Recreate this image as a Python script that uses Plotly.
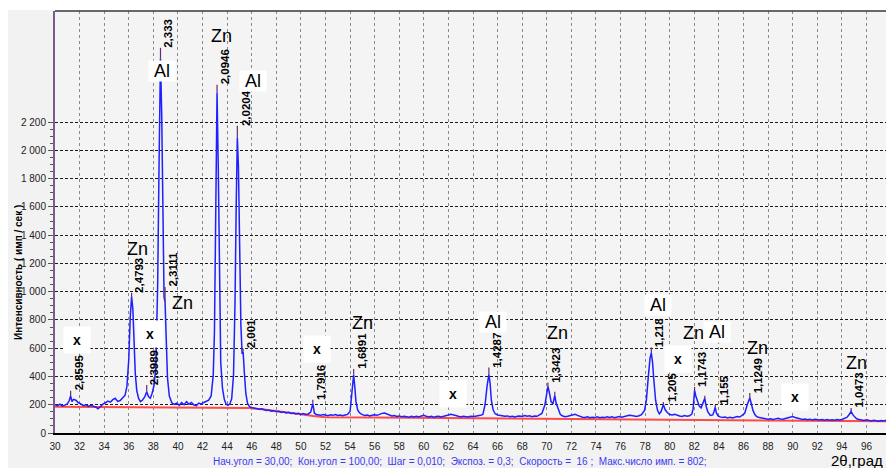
import numpy as np
import plotly.graph_objects as go

# ---------------- data ----------------
# diffraction profile: (2theta, counts)
profile_30_46 = [
    (30.0, 200), (30.2, 194), (30.4, 204), (30.6, 190), (30.8, 197), (31.0, 206), (31.15, 228),
    (31.27, 262), (31.38, 222), (31.5, 238), (31.7, 232), (31.9, 214), (32.1, 206), (32.3, 194),
    (32.5, 200), (32.7, 188), (32.9, 196), (33.1, 190), (33.3, 184), (33.5, 172), (33.7, 192),
    (33.9, 204), (34.1, 214), (34.3, 226), (34.5, 218), (34.7, 236), (34.9, 246), (35.1, 224),
    (35.3, 230), (35.5, 246), (35.7, 268), (35.85, 330), (36.0, 520), (36.12, 820), (36.23, 965),
    (36.33, 880), (36.43, 610), (36.53, 420), (36.65, 300), (36.8, 245), (36.95, 222), (37.1, 232),
    (37.3, 256), (37.46, 292), (37.6, 258), (37.75, 246), (37.9, 282), (38.05, 335), (38.2, 460),
    (38.35, 1050), (38.47, 1950), (38.58, 2650), (38.68, 2250), (38.78, 1350), (38.87, 960),
    (38.95, 930), (39.05, 620), (39.15, 390), (39.3, 262), (39.5, 214), (39.7, 202), (39.9, 212),
    (40.1, 196), (40.3, 216), (40.5, 200), (40.7, 222), (40.9, 204), (41.1, 216), (41.3, 198),
    (41.5, 194), (41.7, 212), (41.9, 204), (42.1, 216), (42.3, 226), (42.5, 232), (42.7, 262),
    (42.87, 410), (42.97, 720), (43.07, 1420), (43.18, 2410), (43.28, 1880), (43.38, 900),
    (43.48, 500), (43.62, 318), (43.77, 238), (43.92, 204), (44.07, 196), (44.22, 206), (44.37, 242),
    (44.52, 410), (44.64, 920), (44.74, 1620), (44.83, 2090), (44.92, 1880), (45.02, 1280),
    (45.12, 760), (45.22, 560), (45.30, 575), (45.4, 430), (45.52, 280), (45.66, 210), (45.82, 186),
]
profile_46_66 = [
    (46.0, 180), (46.2, 176), (46.4, 172), (46.6, 168), (46.8, 171), (47.0, 163), (47.2, 160),
    (47.4, 163), (47.6, 155), (47.8, 158), (48.0, 150), (48.2, 153), (48.4, 145), (48.6, 150),
    (48.8, 142), (49.0, 146), (49.2, 138), (49.4, 141), (49.6, 135), (49.8, 139), (50.0, 132),
    (50.2, 137), (50.4, 131), (50.6, 135), (50.8, 148), (50.97, 208), (51.1, 140), (51.25, 131),
    (51.4, 128), (51.6, 125), (51.8, 131), (52.0, 127), (52.2, 123), (52.4, 129), (52.6, 125),
    (52.8, 131), (53.0, 124), (53.2, 128), (53.4, 122), (53.6, 127), (53.8, 132), (54.0, 152),
    (54.12, 250), (54.22, 372), (54.29, 412), (54.38, 330), (54.48, 222), (54.62, 162), (54.8, 140),
    (55.0, 130), (55.2, 124), (55.4, 127), (55.6, 121), (55.8, 126), (56.0, 129), (56.2, 125),
    (56.4, 133), (56.6, 139), (56.8, 141), (57.0, 132), (57.2, 126), (57.4, 120), (57.6, 123),
    (57.8, 117), (58.0, 121), (58.2, 115), (58.4, 119), (58.6, 116), (58.8, 112), (59.0, 118),
    (59.2, 114), (59.4, 118), (59.6, 113), (59.8, 121), (60.0, 126), (60.2, 118), (60.4, 114),
    (60.6, 118), (60.8, 112), (61.0, 116), (61.2, 119), (61.4, 114), (61.6, 117), (61.8, 121),
    (62.0, 127), (62.2, 133), (62.4, 130), (62.6, 124), (62.8, 118), (63.0, 114), (63.2, 119),
    (63.4, 116), (63.6, 113), (63.8, 119), (64.0, 116), (64.2, 119), (64.4, 121), (64.6, 125),
    (64.8, 131), (64.98, 200), (65.14, 330), (65.29, 415), (65.39, 352), (65.49, 232), (65.64, 162),
    (65.8, 136),
]
profile_66_82 = [
    (66.0, 128), (66.2, 125), (66.4, 121), (66.6, 118), (66.8, 121), (67.0, 115), (67.2, 119),
    (67.4, 114), (67.6, 118), (67.8, 121), (68.0, 117), (68.2, 123), (68.4, 118), (68.6, 122),
    (68.8, 116), (69.0, 121), (69.2, 118), (69.4, 126), (69.6, 138), (69.85, 200), (70.0, 295),
    (70.09, 330), (70.2, 290), (70.35, 222), (70.5, 206), (70.58, 238), (70.65, 266), (70.75, 214),
    (70.95, 160), (71.1, 131), (71.3, 120), (71.5, 115), (71.7, 119), (71.9, 125), (72.1, 129),
    (72.3, 133), (72.5, 125), (72.7, 118), (72.9, 112), (73.1, 110), (73.3, 114), (73.5, 108),
    (73.7, 112), (73.9, 109), (74.1, 114), (74.3, 108), (74.5, 112), (74.7, 109), (74.9, 114),
    (75.1, 110), (75.3, 114), (75.5, 108), (75.7, 113), (75.9, 116), (76.1, 111), (76.3, 117),
    (76.5, 120), (76.7, 125), (76.9, 124), (77.1, 119), (77.3, 117), (77.5, 122), (77.7, 130),
    (77.95, 160), (78.1, 232), (78.25, 392), (78.4, 532), (78.5, 566), (78.6, 502), (78.7, 382),
    (78.85, 232), (79.0, 162), (79.15, 136), (79.3, 152), (79.48, 202), (79.62, 166), (79.8, 145),
    (80.0, 131), (80.2, 127), (80.4, 133), (80.6, 124), (80.8, 120), (81.0, 117), (81.2, 123),
    (81.4, 118), (81.6, 122), (81.8, 134), (81.9, 170), (81.96, 235), (82.02, 302), (82.12, 262),
    (82.25, 220), (82.4, 190), (82.55, 178),
]
profile_82_98 = [
    (82.7, 210), (82.85, 245), (82.97, 186), (83.1, 150), (83.3, 125), (83.5, 128), (83.6, 150),
    (83.7, 182), (83.8, 140), (83.95, 120), (84.1, 114), (84.3, 110), (84.5, 113), (84.7, 107),
    (84.9, 111), (85.1, 106), (85.3, 111), (85.5, 116), (85.7, 113), (85.9, 124), (86.1, 140),
    (86.3, 200), (86.51, 248), (86.62, 212), (86.77, 160), (86.92, 130), (87.05, 118), (87.2, 112),
    (87.4, 108), (87.6, 103), (87.8, 100), (88.0, 97), (88.2, 101), (88.4, 96), (88.6, 100),
    (88.8, 104), (89.0, 99), (89.2, 97), (89.4, 103), (89.6, 108), (89.8, 113), (90.0, 116),
    (90.2, 110), (90.4, 104), (90.6, 100), (90.8, 95), (91.0, 99), (91.2, 94), (91.4, 98),
    (91.6, 93), (91.8, 97), (92.0, 94), (92.2, 92), (92.4, 96), (92.6, 91), (92.8, 95), (93.0, 91),
    (93.2, 94), (93.4, 90), (93.6, 95), (93.8, 92), (94.0, 96), (94.2, 101), (94.4, 110),
    (94.55, 125), (94.65, 140), (94.75, 152), (94.9, 128), (95.05, 110), (95.2, 101), (95.4, 95),
    (95.6, 92), (95.8, 89), (96.0, 93), (96.2, 88), (96.4, 85), (96.6, 90), (96.8, 86), (97.0, 84),
    (97.2, 89), (97.4, 85), (97.6, 90), (97.8, 86), (98.0, 88), (98.24, 86),
]

# background (red) line
baseline_2theta = [30, 45.8, 47, 48, 49, 50, 51, 52, 56, 62, 68, 74, 80, 86, 92, 98.24]
baseline_counts = [186, 177, 167, 157, 145, 132, 120, 112, 109, 105, 100, 94, 90, 88, 84, 82]

# identified peaks: position, top of the marker, d-spacing label
peak_2theta = [31.27, 36.23, 37.46, 38.58, 38.95, 43.18, 44.83, 45.30, 50.97, 54.29,
               65.29, 70.09, 70.65, 78.50, 79.48, 82.02, 82.85, 83.70, 86.51, 94.75]
peak_top = [299, 992, 340, 2726, 1033, 2465, 2175, 597, 236, 453,
            464, 358, 292, 606, 219, 326, 264, 198, 283, 177]
peak_d = ["2,8595", "2,4793", "2,3989", "2,333", "2,3111", "2,0946", "2,0204", "2,001", "1,7916", "1,6891",
          "1,4287", "1,3423", "", "1,218", "1,205", "1,1743", "", "1,155", "1,1249", "1,0473"]

# phase labels
phase_text = ["Zn", "Al", "Zn", "Al", "Zn", "Zn", "Al", "Zn", "Al", "Zn", "Al", "Zn", "Zn"]
phase_2theta = [36.67, 38.70, 43.58, 46.11, 40.41, 55.05, 65.63, 70.83, 79.05, 81.90, 83.85, 87.10, 95.23]
phase_counts = [1305, 2564, 2812, 2494, 922, 781, 788, 710, 908, 710, 717, 604, 498]

unknown_2theta = [31.79, 37.73, 51.31, 62.37, 80.67, 90.19]
unknown_counts = [660, 703, 597, 278, 526, 257]

x_ticks = list(range(30, 99, 2))
y_ticks = list(range(0, 2201, 200))
y_ticktext = ["0", "200", "400", "600", "800", "1 000", "1 200", "1 400", "1 600", "1 800", "2 000", "2 200"]
y_minor = list(range(0, 2201, 50))

info_text = ("Нач.угол = 30,00;\u00a0\u00a0Кон.угол = 100,00;\u00a0\u00a0Шаг = 0,010;\u00a0\u00a0"
             "Экспоз. = 0,3;\u00a0\u00a0Скорость =\u00a0\u00a016 ;\u00a0\u00a0Макс.число имп. = 802;")

# ---------------- figure ----------------
profile = profile_30_46 + profile_46_66 + profile_66_82 + profile_82_98
two_theta = [p[0] for p in profile]
counts = [p[1] for p in profile]

FONT = "Liberation Sans, Arial, sans-serif"
OFF = 8                      # page body margin of the html page
W, H = 894 - OFF, 468 - OFF
ML, MR, MT, MB = 55 - OFF, 0, 11 - OFF, 35
XR = [30, 98.24]
YR = [0, 2987]
pw = W - ML - MR
ph = H - MT - MB


def px(xpage):
    return (xpage - OFF - ML) / pw


def py(ypage):
    return (H - MB - (ypage - OFF)) / ph


fig = go.Figure()

fig.add_trace(go.Scatter(x=baseline_2theta, y=baseline_counts, mode="lines",
                         line=dict(color="#ff4a4a", width=2), hoverinfo="skip"))
fig.add_trace(go.Scatter(x=two_theta, y=counts, mode="lines",
                         line=dict(color="#1f1fff", width=1.5), hoverinfo="skip"))

# peak marker ticks (from curve top up to marker top)
mx, my = [], []
for p, t in zip(peak_2theta, peak_top):
    base = float(np.interp(p, two_theta, counts))
    mx += [p, p, None]
    my += [min(base, t), t, None]
fig.add_trace(go.Scatter(x=mx, y=my, mode="lines", line=dict(color="#6a2a6a", width=1.2),
                         hoverinfo="skip"))

ann = []
for p, t, d in zip(peak_2theta, peak_top, peak_d):
    if not d:
        continue
    ann.append(dict(x=p, y=t, xref="x", yref="y", text="<b>%s</b>" % d, textangle=-90,
                    showarrow=False, xanchor="left", yanchor="bottom", xshift=1, yshift=-1,
                    borderpad=0, font=dict(family=FONT, size=11.5, color="black")))

for txt, x0, y0 in zip(phase_text, phase_2theta, phase_counts):
    boxed = txt == "Al"
    ann.append(dict(x=x0, y=y0, xref="x", yref="y",
                    text=("\u00a0%s\u00a0" % txt) if boxed else txt,
                    showarrow=False, xanchor="center", yanchor="middle",
                    bgcolor="white" if boxed else "rgba(0,0,0,0)", borderpad=0,
                    font=dict(family=FONT, size=18, color="black")))

for x0, y0 in zip(unknown_2theta, unknown_counts):
    ann.append(dict(x=x0, y=y0, xref="x", yref="y", text="<b>\u00a0x\u00a0</b>",
                    showarrow=False, xanchor="center", yanchor="middle",
                    bgcolor="white", borderpad=5,
                    font=dict(family=FONT, size=14, color="black")))

# y-axis title
ann.append(dict(x=px(18), y=py(273), xref="paper", yref="paper",
                text="<b>Интенсивность ( имп / сек )</b>", textangle=-90, showarrow=False,
                xanchor="center", yanchor="middle", font=dict(family=FONT, size=10, color="black")))
# x-axis title
ann.append(dict(x=px(857), y=py(460), xref="paper", yref="paper",
                text="2θ,град", showarrow=False, xanchor="center", yanchor="middle",
                font=dict(family=FONT, size=15, color="black")))
# info line
ann.append(dict(x=px(460), y=py(461), xref="paper", yref="paper",
                text=info_text, showarrow=False, xanchor="center", yanchor="middle",
                font=dict(family=FONT, size=10, color="#3a3af0")))

shapes = [
    # thin white strip at the very top
    dict(type="rect", xref="paper", yref="paper", x0=px(0) - 0.01, x1=1.01, y0=py(10), y1=py(0),
         fillcolor="white", line=dict(width=0), layer="above"),
    # top frame line
    dict(type="line", xref="paper", yref="paper", x0=0, x1=1, y0=1, y1=1,
         line=dict(color="#3a3a3a", width=1.5), layer="above"),
]

fig.update_layout(
    width=W, height=H, margin=dict(l=ML, r=MR, t=MT, b=MB, pad=0),
    paper_bgcolor="#f2f2f2", plot_bgcolor="#f4f4f4", showlegend=False,
    annotations=ann, shapes=shapes,
    xaxis=dict(range=XR, tickmode="array", tickvals=x_ticks, ticks="", showgrid=True,
               gridcolor="#8a8a8a", griddash="3px,3px", gridwidth=1, zeroline=False,
               showline=True, linecolor="black", linewidth=2,
               tickfont=dict(family=FONT, size=10, color="#222"), ticklabelstandoff=3),
    yaxis=dict(range=YR, tickmode="array", tickvals=y_ticks, ticktext=y_ticktext,
               ticks="outside", ticklen=5, tickcolor="#555", showgrid=True,
               gridcolor="#1a1a1a", griddash="3px,2px", gridwidth=1, zeroline=False,
               showline=True, linecolor="#7b5a8c", linewidth=2,
               tickfont=dict(family=FONT, size=10, color="#222"),
               minor=dict(tickmode="array", tickvals=y_minor, ticks="outside", ticklen=3,
                          tickcolor="#555", showgrid=False)),
)

fig.write_html("out.html")
